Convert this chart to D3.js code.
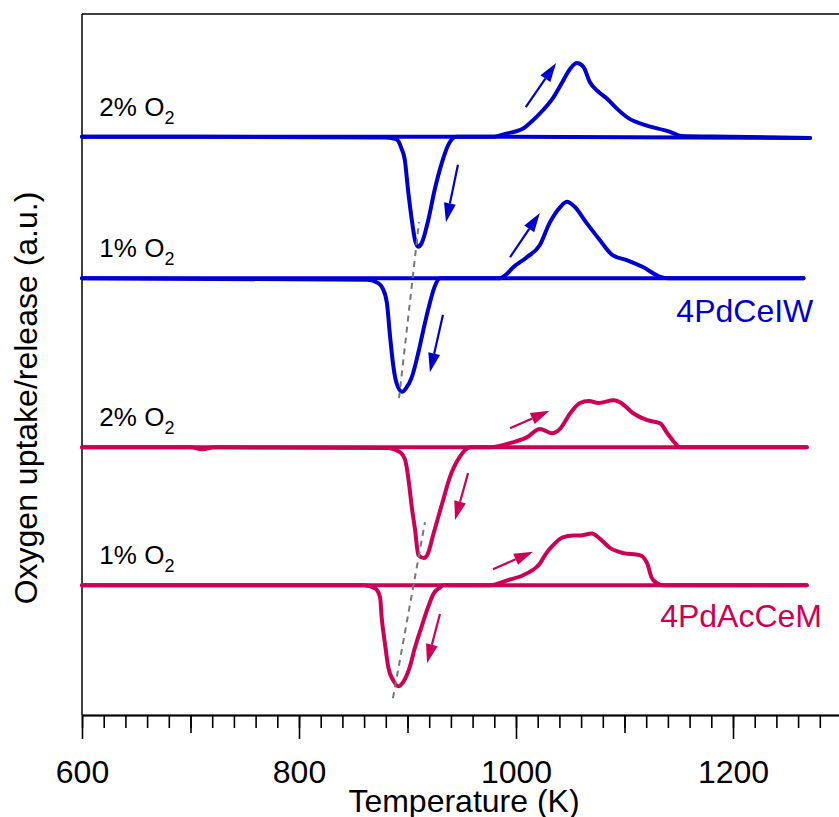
<!DOCTYPE html>
<html>
<head>
<meta charset="utf-8">
<script src="https://cdn.jsdelivr.net/npm/d3@7"></script>
<style>
  body { margin: 0; background: #fff; }
  text { font-family: "Liberation Sans", Arial, sans-serif; }
</style>
</head>
<body>
<svg id="chart" width="839" height="817"></svg>
<script>
// temperature ticks
var majorTicks = [600, 800, 1000, 1200];
var mediumTicks = [700, 900, 1100, 1300];
var minorTicks = d3.range(600, 1301, 20);

// vertical offset of each trace (a.u.)
var offsets = [82.5, 62.3, 38.2, 18.5];
var traceLabels = ["2%", "1%", "2%", "1%"];
var traceColors = ["#0000cc", "#0000cc", "#cc0055", "#cc0055"];

// [T (K), signal (a.u.)], heating branch (release peak) and cooling branch (uptake dip)
var blue2Heat = [[600,0],[980,0],[990,0.4],[1007,1.2],[1014,2.1],[1025,3.8],[1034,5.5],[1042,7.6],[1050,9.7],[1056,10.5],[1062,10.0],[1068,7.8],[1076,6.4],[1084,5.4],[1093,4.0],[1104,2.6],[1120,1.6],[1142,0.7],[1152,0.1],[1200,0],[1271,-0.2]];
var blue2Cool = [[600,0],[880,-0.1],[890,-0.4],[894.5,-1.7],[897.5,-3.3],[900.5,-7.6],[904,-11.9],[907,-14.8],[910,-15.7],[913,-15.2],[919,-12.0],[925,-7.6],[931.5,-3.8],[937.5,-1.2],[945,0],[1271,-0.2]];
var blue1Heat = [[600,0],[985,0],[990,0.4],[997,1.5],[1010,3.0],[1022,4.75],[1031,7.9],[1041,10.2],[1047,10.9],[1054,10.2],[1065,7.9],[1077,5.5],[1089,3.3],[1102,2.6],[1117,1.6],[1133,0.2],[1140,0],[1265,0]];
var blue1Cool = [[600,0],[863,-0.2],[873,-0.7],[877,-1.4],[881,-3.5],[884,-8.4],[887,-12.6],[890,-15.0],[895,-16.2],[899,-15.6],[904,-14.1],[910,-10.6],[914,-7.8],[919,-4.5],[925,-1.2],[930,0],[1265,0]];
var pink2Heat = [[600,0],[976,0],[997,0.7],[1010,1.4],[1022,2.6],[1033,2.0],[1041,2.7],[1050,4.85],[1059,6.3],[1067,6.6],[1076,6.3],[1090,6.7],[1096,6.4],[1108,4.85],[1121,3.85],[1133,3.4],[1139,2.1],[1146,0.7],[1151,0],[1268,0]];
var pink2Cool = [[600,0],[700,0],[711,-0.3],[722,0],[881,-0.1],[893,-0.7],[898,-1.9],[901,-4.7],[904,-8.6],[907,-11.8],[910,-15.4],[915,-15.8],[919,-15.1],[924,-12.3],[932,-8.0],[939,-4.3],[948,-1.4],[958,0],[1268,0]];
var pink1Heat = [[600,0],[976,0],[992,0.7],[1010,1.7],[1022,3.1],[1028,4.6],[1034,5.7],[1043,6.85],[1053,7.1],[1059,7.1],[1070,7.4],[1077,6.7],[1087,5.3],[1099,4.6],[1114,4.3],[1121,3.1],[1125,1.1],[1130,0.3],[1135,0],[1268,0]];
var pink1Cool = [[600,0],[860,0],[870,-0.4],[874.7,-1.7],[876.2,-4.6],[879.3,-8.4],[882.3,-11.7],[887,-13.6],[891.5,-14.4],[896,-13.8],[902,-11.7],[907,-8.8],[913,-5.9],[919,-3.1],[924,-1.2],[930,-0.3],[933,0],[1268,0]];

// arrows [T1, y1, T2, y2] in plot units
var arrows = [
  [1009, 86.7, 1037, 93.0], [946.5, 78.5, 935.5, 70.3],
  [994.5, 65.3, 1022, 71.6], [932.7, 57.1, 920.7, 48.9],
  [994.5, 40.9, 1031, 43.4], [955.8, 34.5, 943.8, 27.8],
  [978.8, 20.8, 1015.7, 23.3], [929.9, 14.4, 918.0, 7.4]
];
var arrowColors = ["#0000cc", "#0000cc", "#0000cc", "#0000cc", "#cc0055", "#cc0055", "#cc0055", "#cc0055"];

// dashed guides through the dip minima
var blueGuide = [[892.2, 45.2], [910.6, 70.3]];
var pinkGuide = [[886.6, 2.4], [916.1, 27.5]];

var svg = d3.select("#chart");
var x = d3.scaleLinear().domain([600, 1300]).range([82, 841.5]);
var y = d3.scaleLinear().domain([0, 100]).range([715, 14]);

// frame
svg.append("line").attr("x1", x(600)).attr("x2", x(1300)).attr("y1", y(100)).attr("y2", y(100))
  .attr("stroke", "#000").attr("stroke-width", 1.5);
svg.append("line").attr("x1", x(600)).attr("x2", x(600)).attr("y1", y(100)).attr("y2", y(0))
  .attr("stroke", "#000").attr("stroke-width", 1.5);

function tickAxis(vals, size) {
  return d3.axisBottom(x).tickValues(vals).tickSize(size).tickSizeOuter(0).tickFormat("");
}
var gMinor = svg.append("g").attr("transform", "translate(0," + y(0) + ")").call(tickAxis(minorTicks, 13));
var gMed = svg.append("g").attr("transform", "translate(0," + y(0) + ")").call(tickAxis(mediumTicks, 18));
var gMajor = svg.append("g").attr("transform", "translate(0," + y(0) + ")")
  .call(d3.axisBottom(x).tickValues(majorTicks).tickSize(24).tickSizeOuter(0).tickFormat(d3.format("d")));
[gMinor, gMed, gMajor].forEach(function(g) {
  g.selectAll("line").attr("stroke", "#000").attr("stroke-width", 1.6);
  g.select(".domain").attr("stroke", "#000").attr("stroke-width", 1.5);
});
gMajor.selectAll("text").attr("font-size", 32).attr("fill", "#000")
  .attr("font-family", "Liberation Sans, Arial, sans-serif")
  .attr("dy", null).attr("y", 68);

// axis titles
svg.append("text").attr("x", 464).attr("y", 812).attr("text-anchor", "middle")
  .attr("font-size", 32).text("Temperature (K)");
svg.append("text").attr("transform", "translate(37,398) rotate(-90)").attr("text-anchor", "middle")
  .attr("font-size", 32).text("Oxygen uptake/release (a.u.)");

var line = d3.line().curve(d3.curveMonotoneX);
var traces = [[blue2Heat, blue2Cool], [blue1Heat, blue1Cool], [pink2Heat, pink2Cool], [pink1Heat, pink1Cool]];

traces.forEach(function(pair, i) {
  pair.forEach(function(data) {
    svg.append("path")
      .attr("d", line.x(function(d) { return x(d[0]); }).y(function(d) { return y(offsets[i] + d[1]); })(data))
      .attr("fill", "none")
      .attr("stroke", traceColors[i])
      .attr("stroke-width", 4)
      .attr("stroke-linejoin", "round")
      .attr("stroke-linecap", "round");
  });
  var lab = svg.append("text").attr("x", x(616)).attr("y", y(offsets[i]) - 21)
    .attr("font-size", 26).attr("fill", "#000");
  lab.append("tspan").text(traceLabels[i] + " O");
  lab.append("tspan").attr("font-size", 18).attr("dy", 8).text("2");
});

// sample names
svg.append("text").attr("x", x(1274)).attr("y", y(offsets[1]) + 44).attr("text-anchor", "end")
  .attr("font-size", 32).attr("fill", "#0000cc").text("4PdCeIW");
svg.append("text").attr("x", x(1282)).attr("y", y(offsets[3]) + 42).attr("text-anchor", "end")
  .attr("font-size", 32).attr("fill", "#cc0055").text("4PdAcCeM");

// dashed guides
[blueGuide, pinkGuide].forEach(function(g) {
  svg.append("line")
    .attr("x1", x(g[0][0])).attr("y1", y(g[0][1]))
    .attr("x2", x(g[1][0])).attr("y2", y(g[1][1]))
    .attr("stroke", "#777").attr("stroke-width", 2).attr("stroke-dasharray", "6,5");
});

// arrows
arrows.forEach(function(a, i) {
  var x1 = x(a[0]), y1 = y(a[1]), x2 = x(a[2]), y2 = y(a[3]);
  var ang = Math.atan2(y2 - y1, x2 - x1);
  var hl = 19, hw = 6;
  var bx = x2 - hl * Math.cos(ang), by = y2 - hl * Math.sin(ang);
  svg.append("line").attr("x1", x1).attr("y1", y1).attr("x2", bx).attr("y2", by)
    .attr("stroke", arrowColors[i]).attr("stroke-width", 2.2);
  var px = -Math.sin(ang) * hw, py = Math.cos(ang) * hw;
  svg.append("path")
    .attr("d", "M" + x2 + "," + y2 + "L" + (bx + px) + "," + (by + py) + "L" + (bx - px) + "," + (by - py) + "Z")
    .attr("fill", arrowColors[i]);
});
</script>
</body>
</html>
